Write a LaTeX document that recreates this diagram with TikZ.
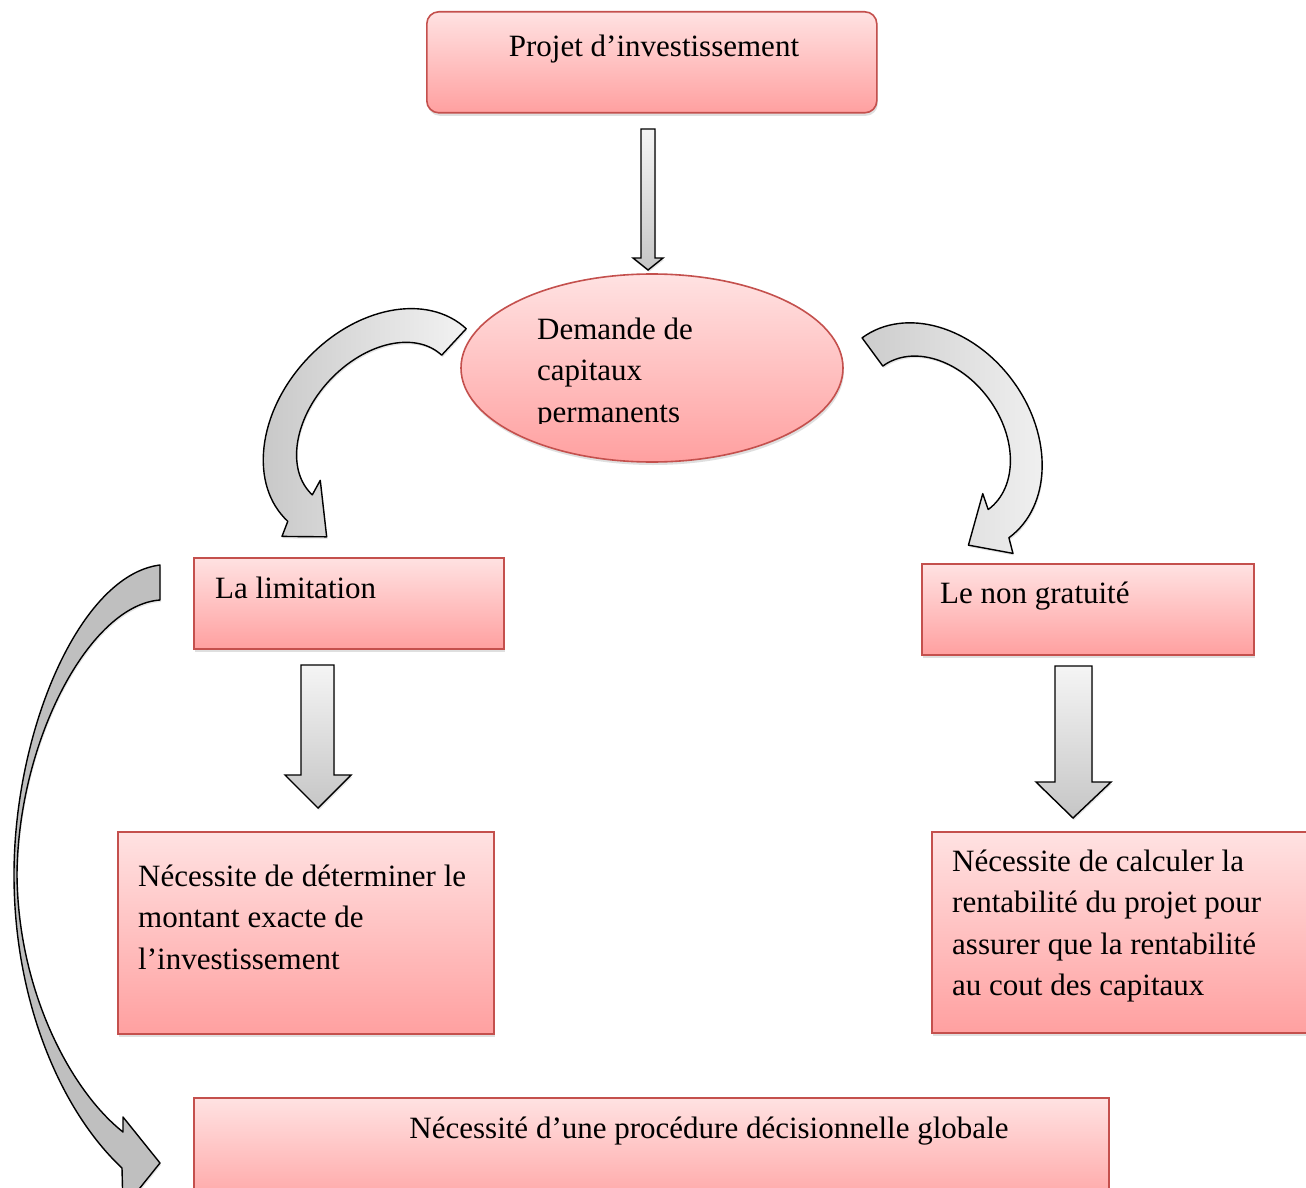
\documentclass[tikz,border=0pt]{standalone}
\usepackage{fontspec}
\setmainfont{Liberation Serif}
\usetikzlibrary{shapes.geometric,shadows}
\definecolor{pinktop}{HTML}{FFE2E2}
\definecolor{pinkbot}{HTML}{FFA0A0}
\definecolor{boxline}{HTML}{C4504D}
\definecolor{arrowgray}{HTML}{BFBFBF}
\begin{document}
\begin{tikzpicture}[x=1pt,y=-1pt,
  softshadow/.style={drop shadow={shadow xshift=1pt, shadow yshift=-3pt, opacity=0.25}},
  pinkbox/.style={draw=boxline, line width=1.6pt, top color=pinktop, bottom color=pinkbot,
    softshadow, inner sep=0pt, anchor=north west},
  txt/.style={inner sep=0pt, font=\fontsize{31}{41.5}\selectfont, anchor=base west, align=flush left},
  blockarrow/.style={draw=black, line width=1.4pt, line join=miter, top color=gray!8, bottom color=gray!45,
    drop shadow={shadow xshift=1pt, shadow yshift=-2pt, opacity=0.2}},
  curvearrow/.style={draw=black, line width=1.4pt, line join=round,
    drop shadow={shadow xshift=1pt, shadow yshift=-2pt, opacity=0.2}},
]
\useasboundingbox (0,0) rectangle (1306,1188);
\fill[white] (0,0) rectangle (1306,1188);
\clip (0,0) rectangle (1306,1188);

% boxes
\node[pinkbox, rounded corners=12pt, minimum width=450pt, minimum height=101pt] (proj) at (426,11) {};
\node[ellipse, draw=boxline, line width=1.6pt, top color=pinktop, bottom color=pinkbot,
  softshadow, minimum width=382pt, minimum height=188pt, inner sep=0pt] (dem) at (652,368) {};
\node[pinkbox, minimum width=310pt, minimum height=91pt] (lim) at (193,557) {};
\node[pinkbox, minimum width=332pt, minimum height=91pt] (grat) at (921,563) {};
\node[pinkbox, minimum width=376pt, minimum height=202pt] (det) at (117,831) {};
\node[pinkbox, minimum width=390pt, minimum height=201pt] (calc) at (931,831) {};
\node[pinkbox, minimum width=915pt, minimum height=115pt] (glob) at (193,1097) {};

% texts
\node[txt, anchor=base] (tproj) at (654,57) {Projet d’investissement};
\begin{scope}
  \clip (500,280) rectangle (820,423);
  \node[txt, text width=250pt] (tdem) at (537,339) {Demande de\\capitaux\\permanents};
\end{scope}
\node[txt] (tlim) at (215,598) {La limitation};
\node[txt] (tgrat) at (940,603) {Le non gratuité};
\node[txt, text width=360pt] (tdet) at (138,886) {Nécessite de déterminer le\\montant exacte de\\l’investissement};
\node[txt, text width=350pt] (tcalc) at (952,871) {Nécessite de calculer la\\rentabilité du projet pour\\assurer que la rentabilité\\au cout des capitaux};
\node[txt, anchor=base] (tglob) at (709,1138) {Nécessité d’une procédure décisionnelle globale};

% straight block arrows
\draw[blockarrow] (641,129) -- (655,129) -- (655,258) -- (663,258) -- (648,270) -- (633,258) -- (641,258) -- cycle;
\draw[blockarrow] (301,665) -- (334,665) -- (334,775) -- (351,775) -- (318,808) -- (285,775) -- (301,775) -- cycle;
\draw[blockarrow] (1055,666) -- (1092,666) -- (1092,782) -- (1111,782) -- (1073,818) -- (1036,782) -- (1055,782) -- cycle;

% left curved arrow (ellipse -> La limitation), in a rotated local frame
\begin{scope}[shift={(377,425)}, x={(0.681pt,0.735pt)}, y={(-0.735pt,0.681pt)}]
\draw[curvearrow, left color=gray!45, right color=gray!10]
  (131,0) .. controls (131,53) and (72.4,96) .. (0,96)
  .. controls (-72.4,96) and (-131,53) .. (-131,0)
  -- (-146,-6) -- (-116,-39) -- (-79,4) -- (-95,0)
  .. controls (-95,35.9) and (-52.5,65) .. (0,65)
  .. controls (52.5,65) and (95,35.9) .. (95,0) -- cycle;
\end{scope}

% right curved arrow (ellipse -> Le non gratuite)
\begin{scope}[shift={(935.5,437.8)}, x={(-0.592pt,0.806pt)}, y={(0.806pt,0.592pt)}]
\draw[curvearrow, left color=gray!40, right color=gray!10]
  (124,0) .. controls (124,53) and (68.5,96) .. (0,96)
  .. controls (-68.5,96) and (-124,53) .. (-124,0)
  -- (-139,-6) -- (-106,-37) -- (-73,5) -- (-89,0)
  .. controls (-89,36.5) and (-49.2,66) .. (0,66)
  .. controls (49.2,66) and (89,36.5) .. (89,0) -- cycle;
\end{scope}

% long left arrow (La limitation -> global procedure)
\draw[curvearrow, fill=arrowgray]
  (160,565) .. controls (80,575) and (14,730) .. (14,875)
  .. controls (14,1000) and (60,1110) .. (122,1168)
  -- (123,1209) -- (160,1163) -- (123,1117) -- (123,1132)
  .. controls (70,1090) and (18,990) .. (17,875)
  .. controls (18,740) and (90,605) .. (160,600) -- cycle;
\end{tikzpicture}
\end{document}
